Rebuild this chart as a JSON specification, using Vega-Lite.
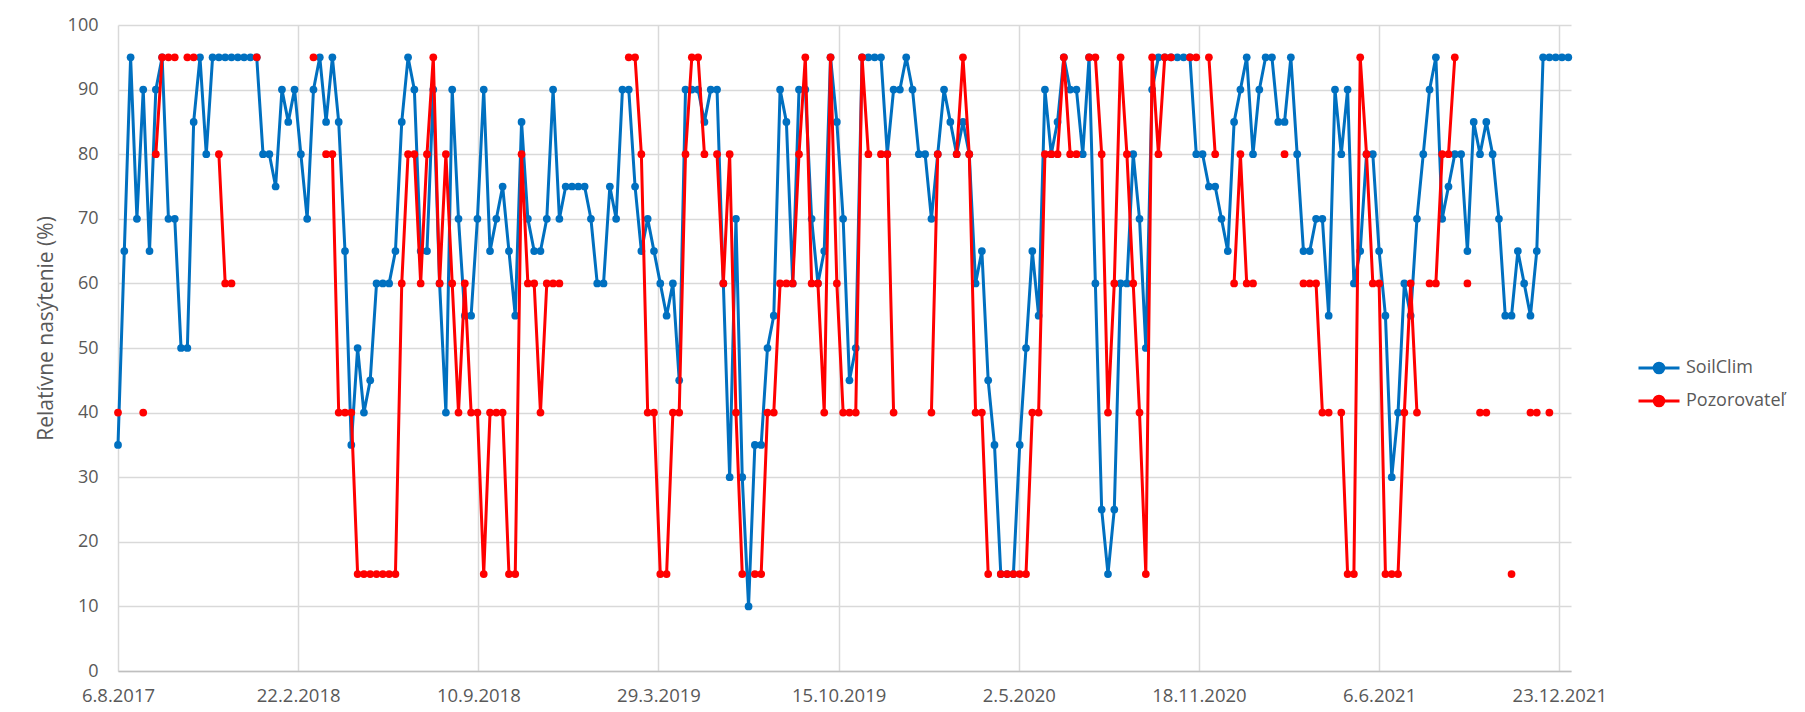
{
  "$schema": "https://vega.github.io/schema/vega-lite/v6.json",
  "width": 1453,
  "height": 646,
  "autosize": {"type": "none"},
  "padding": {"left": 118, "top": 25, "right": 234, "bottom": 41},
  "background": "white",
  "config": {"view": {"stroke": null}, "font": "Open Sans"},
  "data": {"values": [
{"d":"2017-08-06","SoilClim":35,"Pozorovateľ":40},
{"d":"2017-08-13","SoilClim":65,"Pozorovateľ":null},
{"d":"2017-08-20","SoilClim":95,"Pozorovateľ":null},
{"d":"2017-08-27","SoilClim":70,"Pozorovateľ":null},
{"d":"2017-09-03","SoilClim":90,"Pozorovateľ":40},
{"d":"2017-09-10","SoilClim":65,"Pozorovateľ":null},
{"d":"2017-09-17","SoilClim":90,"Pozorovateľ":80},
{"d":"2017-09-24","SoilClim":95,"Pozorovateľ":95},
{"d":"2017-10-01","SoilClim":70,"Pozorovateľ":95},
{"d":"2017-10-08","SoilClim":70,"Pozorovateľ":95},
{"d":"2017-10-15","SoilClim":50,"Pozorovateľ":null},
{"d":"2017-10-22","SoilClim":50,"Pozorovateľ":95},
{"d":"2017-10-29","SoilClim":85,"Pozorovateľ":95},
{"d":"2017-11-05","SoilClim":95,"Pozorovateľ":null},
{"d":"2017-11-12","SoilClim":80,"Pozorovateľ":null},
{"d":"2017-11-19","SoilClim":95,"Pozorovateľ":null},
{"d":"2017-11-26","SoilClim":95,"Pozorovateľ":80},
{"d":"2017-12-03","SoilClim":95,"Pozorovateľ":60},
{"d":"2017-12-10","SoilClim":95,"Pozorovateľ":60},
{"d":"2017-12-17","SoilClim":95,"Pozorovateľ":null},
{"d":"2017-12-24","SoilClim":95,"Pozorovateľ":null},
{"d":"2017-12-31","SoilClim":95,"Pozorovateľ":null},
{"d":"2018-01-07","SoilClim":95,"Pozorovateľ":95},
{"d":"2018-01-14","SoilClim":80,"Pozorovateľ":null},
{"d":"2018-01-21","SoilClim":80,"Pozorovateľ":null},
{"d":"2018-01-28","SoilClim":75,"Pozorovateľ":null},
{"d":"2018-02-04","SoilClim":90,"Pozorovateľ":null},
{"d":"2018-02-11","SoilClim":85,"Pozorovateľ":null},
{"d":"2018-02-18","SoilClim":90,"Pozorovateľ":null},
{"d":"2018-02-25","SoilClim":80,"Pozorovateľ":null},
{"d":"2018-03-04","SoilClim":70,"Pozorovateľ":null},
{"d":"2018-03-11","SoilClim":90,"Pozorovateľ":95},
{"d":"2018-03-18","SoilClim":95,"Pozorovateľ":null},
{"d":"2018-03-25","SoilClim":85,"Pozorovateľ":80},
{"d":"2018-04-01","SoilClim":95,"Pozorovateľ":80},
{"d":"2018-04-08","SoilClim":85,"Pozorovateľ":40},
{"d":"2018-04-15","SoilClim":65,"Pozorovateľ":40},
{"d":"2018-04-22","SoilClim":35,"Pozorovateľ":40},
{"d":"2018-04-29","SoilClim":50,"Pozorovateľ":15},
{"d":"2018-05-06","SoilClim":40,"Pozorovateľ":15},
{"d":"2018-05-13","SoilClim":45,"Pozorovateľ":15},
{"d":"2018-05-20","SoilClim":60,"Pozorovateľ":15},
{"d":"2018-05-27","SoilClim":60,"Pozorovateľ":15},
{"d":"2018-06-03","SoilClim":60,"Pozorovateľ":15},
{"d":"2018-06-10","SoilClim":65,"Pozorovateľ":15},
{"d":"2018-06-17","SoilClim":85,"Pozorovateľ":60},
{"d":"2018-06-24","SoilClim":95,"Pozorovateľ":80},
{"d":"2018-07-01","SoilClim":90,"Pozorovateľ":80},
{"d":"2018-07-08","SoilClim":65,"Pozorovateľ":60},
{"d":"2018-07-15","SoilClim":65,"Pozorovateľ":80},
{"d":"2018-07-22","SoilClim":90,"Pozorovateľ":95},
{"d":"2018-07-29","SoilClim":60,"Pozorovateľ":60},
{"d":"2018-08-05","SoilClim":40,"Pozorovateľ":80},
{"d":"2018-08-12","SoilClim":90,"Pozorovateľ":60},
{"d":"2018-08-19","SoilClim":70,"Pozorovateľ":40},
{"d":"2018-08-26","SoilClim":55,"Pozorovateľ":60},
{"d":"2018-09-02","SoilClim":55,"Pozorovateľ":40},
{"d":"2018-09-09","SoilClim":70,"Pozorovateľ":40},
{"d":"2018-09-16","SoilClim":90,"Pozorovateľ":15},
{"d":"2018-09-23","SoilClim":65,"Pozorovateľ":40},
{"d":"2018-09-30","SoilClim":70,"Pozorovateľ":40},
{"d":"2018-10-07","SoilClim":75,"Pozorovateľ":40},
{"d":"2018-10-14","SoilClim":65,"Pozorovateľ":15},
{"d":"2018-10-21","SoilClim":55,"Pozorovateľ":15},
{"d":"2018-10-28","SoilClim":85,"Pozorovateľ":80},
{"d":"2018-11-04","SoilClim":70,"Pozorovateľ":60},
{"d":"2018-11-11","SoilClim":65,"Pozorovateľ":60},
{"d":"2018-11-18","SoilClim":65,"Pozorovateľ":40},
{"d":"2018-11-25","SoilClim":70,"Pozorovateľ":60},
{"d":"2018-12-02","SoilClim":90,"Pozorovateľ":60},
{"d":"2018-12-09","SoilClim":70,"Pozorovateľ":60},
{"d":"2018-12-16","SoilClim":75,"Pozorovateľ":null},
{"d":"2018-12-23","SoilClim":75,"Pozorovateľ":null},
{"d":"2018-12-30","SoilClim":75,"Pozorovateľ":null},
{"d":"2019-01-06","SoilClim":75,"Pozorovateľ":null},
{"d":"2019-01-13","SoilClim":70,"Pozorovateľ":null},
{"d":"2019-01-20","SoilClim":60,"Pozorovateľ":null},
{"d":"2019-01-27","SoilClim":60,"Pozorovateľ":null},
{"d":"2019-02-03","SoilClim":75,"Pozorovateľ":null},
{"d":"2019-02-10","SoilClim":70,"Pozorovateľ":null},
{"d":"2019-02-17","SoilClim":90,"Pozorovateľ":null},
{"d":"2019-02-24","SoilClim":90,"Pozorovateľ":95},
{"d":"2019-03-03","SoilClim":75,"Pozorovateľ":95},
{"d":"2019-03-10","SoilClim":65,"Pozorovateľ":80},
{"d":"2019-03-17","SoilClim":70,"Pozorovateľ":40},
{"d":"2019-03-24","SoilClim":65,"Pozorovateľ":40},
{"d":"2019-03-31","SoilClim":60,"Pozorovateľ":15},
{"d":"2019-04-07","SoilClim":55,"Pozorovateľ":15},
{"d":"2019-04-14","SoilClim":60,"Pozorovateľ":40},
{"d":"2019-04-21","SoilClim":45,"Pozorovateľ":40},
{"d":"2019-04-28","SoilClim":90,"Pozorovateľ":80},
{"d":"2019-05-05","SoilClim":90,"Pozorovateľ":95},
{"d":"2019-05-12","SoilClim":90,"Pozorovateľ":95},
{"d":"2019-05-19","SoilClim":85,"Pozorovateľ":80},
{"d":"2019-05-26","SoilClim":90,"Pozorovateľ":null},
{"d":"2019-06-02","SoilClim":90,"Pozorovateľ":80},
{"d":"2019-06-09","SoilClim":60,"Pozorovateľ":60},
{"d":"2019-06-16","SoilClim":30,"Pozorovateľ":80},
{"d":"2019-06-23","SoilClim":70,"Pozorovateľ":40},
{"d":"2019-06-30","SoilClim":30,"Pozorovateľ":15},
{"d":"2019-07-07","SoilClim":10,"Pozorovateľ":null},
{"d":"2019-07-14","SoilClim":35,"Pozorovateľ":15},
{"d":"2019-07-21","SoilClim":35,"Pozorovateľ":15},
{"d":"2019-07-28","SoilClim":50,"Pozorovateľ":40},
{"d":"2019-08-04","SoilClim":55,"Pozorovateľ":40},
{"d":"2019-08-11","SoilClim":90,"Pozorovateľ":60},
{"d":"2019-08-18","SoilClim":85,"Pozorovateľ":60},
{"d":"2019-08-25","SoilClim":60,"Pozorovateľ":60},
{"d":"2019-09-01","SoilClim":90,"Pozorovateľ":80},
{"d":"2019-09-08","SoilClim":90,"Pozorovateľ":95},
{"d":"2019-09-15","SoilClim":70,"Pozorovateľ":60},
{"d":"2019-09-22","SoilClim":60,"Pozorovateľ":60},
{"d":"2019-09-29","SoilClim":65,"Pozorovateľ":40},
{"d":"2019-10-06","SoilClim":95,"Pozorovateľ":95},
{"d":"2019-10-13","SoilClim":85,"Pozorovateľ":60},
{"d":"2019-10-20","SoilClim":70,"Pozorovateľ":40},
{"d":"2019-10-27","SoilClim":45,"Pozorovateľ":40},
{"d":"2019-11-03","SoilClim":50,"Pozorovateľ":40},
{"d":"2019-11-10","SoilClim":95,"Pozorovateľ":95},
{"d":"2019-11-17","SoilClim":95,"Pozorovateľ":80},
{"d":"2019-11-24","SoilClim":95,"Pozorovateľ":null},
{"d":"2019-12-01","SoilClim":95,"Pozorovateľ":80},
{"d":"2019-12-08","SoilClim":80,"Pozorovateľ":80},
{"d":"2019-12-15","SoilClim":90,"Pozorovateľ":40},
{"d":"2019-12-22","SoilClim":90,"Pozorovateľ":null},
{"d":"2019-12-29","SoilClim":95,"Pozorovateľ":null},
{"d":"2020-01-05","SoilClim":90,"Pozorovateľ":null},
{"d":"2020-01-12","SoilClim":80,"Pozorovateľ":null},
{"d":"2020-01-19","SoilClim":80,"Pozorovateľ":null},
{"d":"2020-01-26","SoilClim":70,"Pozorovateľ":40},
{"d":"2020-02-02","SoilClim":80,"Pozorovateľ":80},
{"d":"2020-02-09","SoilClim":90,"Pozorovateľ":null},
{"d":"2020-02-16","SoilClim":85,"Pozorovateľ":null},
{"d":"2020-02-23","SoilClim":80,"Pozorovateľ":80},
{"d":"2020-03-01","SoilClim":85,"Pozorovateľ":95},
{"d":"2020-03-08","SoilClim":80,"Pozorovateľ":80},
{"d":"2020-03-15","SoilClim":60,"Pozorovateľ":40},
{"d":"2020-03-22","SoilClim":65,"Pozorovateľ":40},
{"d":"2020-03-29","SoilClim":45,"Pozorovateľ":15},
{"d":"2020-04-05","SoilClim":35,"Pozorovateľ":null},
{"d":"2020-04-12","SoilClim":15,"Pozorovateľ":15},
{"d":"2020-04-19","SoilClim":15,"Pozorovateľ":15},
{"d":"2020-04-26","SoilClim":15,"Pozorovateľ":15},
{"d":"2020-05-03","SoilClim":35,"Pozorovateľ":15},
{"d":"2020-05-10","SoilClim":50,"Pozorovateľ":15},
{"d":"2020-05-17","SoilClim":65,"Pozorovateľ":40},
{"d":"2020-05-24","SoilClim":55,"Pozorovateľ":40},
{"d":"2020-05-31","SoilClim":90,"Pozorovateľ":80},
{"d":"2020-06-07","SoilClim":80,"Pozorovateľ":80},
{"d":"2020-06-14","SoilClim":85,"Pozorovateľ":80},
{"d":"2020-06-21","SoilClim":95,"Pozorovateľ":95},
{"d":"2020-06-28","SoilClim":90,"Pozorovateľ":80},
{"d":"2020-07-05","SoilClim":90,"Pozorovateľ":80},
{"d":"2020-07-12","SoilClim":80,"Pozorovateľ":null},
{"d":"2020-07-19","SoilClim":95,"Pozorovateľ":95},
{"d":"2020-07-26","SoilClim":60,"Pozorovateľ":95},
{"d":"2020-08-02","SoilClim":25,"Pozorovateľ":80},
{"d":"2020-08-09","SoilClim":15,"Pozorovateľ":40},
{"d":"2020-08-16","SoilClim":25,"Pozorovateľ":60},
{"d":"2020-08-23","SoilClim":60,"Pozorovateľ":95},
{"d":"2020-08-30","SoilClim":60,"Pozorovateľ":80},
{"d":"2020-09-06","SoilClim":80,"Pozorovateľ":60},
{"d":"2020-09-13","SoilClim":70,"Pozorovateľ":40},
{"d":"2020-09-20","SoilClim":50,"Pozorovateľ":15},
{"d":"2020-09-27","SoilClim":90,"Pozorovateľ":95},
{"d":"2020-10-04","SoilClim":95,"Pozorovateľ":80},
{"d":"2020-10-11","SoilClim":95,"Pozorovateľ":95},
{"d":"2020-10-18","SoilClim":95,"Pozorovateľ":95},
{"d":"2020-10-25","SoilClim":95,"Pozorovateľ":null},
{"d":"2020-11-01","SoilClim":95,"Pozorovateľ":null},
{"d":"2020-11-08","SoilClim":95,"Pozorovateľ":95},
{"d":"2020-11-15","SoilClim":80,"Pozorovateľ":95},
{"d":"2020-11-22","SoilClim":80,"Pozorovateľ":null},
{"d":"2020-11-29","SoilClim":75,"Pozorovateľ":95},
{"d":"2020-12-06","SoilClim":75,"Pozorovateľ":80},
{"d":"2020-12-13","SoilClim":70,"Pozorovateľ":null},
{"d":"2020-12-20","SoilClim":65,"Pozorovateľ":null},
{"d":"2020-12-27","SoilClim":85,"Pozorovateľ":60},
{"d":"2021-01-03","SoilClim":90,"Pozorovateľ":80},
{"d":"2021-01-10","SoilClim":95,"Pozorovateľ":60},
{"d":"2021-01-17","SoilClim":80,"Pozorovateľ":60},
{"d":"2021-01-24","SoilClim":90,"Pozorovateľ":null},
{"d":"2021-01-31","SoilClim":95,"Pozorovateľ":null},
{"d":"2021-02-07","SoilClim":95,"Pozorovateľ":null},
{"d":"2021-02-14","SoilClim":85,"Pozorovateľ":null},
{"d":"2021-02-21","SoilClim":85,"Pozorovateľ":80},
{"d":"2021-02-28","SoilClim":95,"Pozorovateľ":null},
{"d":"2021-03-07","SoilClim":80,"Pozorovateľ":null},
{"d":"2021-03-14","SoilClim":65,"Pozorovateľ":60},
{"d":"2021-03-21","SoilClim":65,"Pozorovateľ":60},
{"d":"2021-03-28","SoilClim":70,"Pozorovateľ":60},
{"d":"2021-04-04","SoilClim":70,"Pozorovateľ":40},
{"d":"2021-04-11","SoilClim":55,"Pozorovateľ":40},
{"d":"2021-04-18","SoilClim":90,"Pozorovateľ":null},
{"d":"2021-04-25","SoilClim":80,"Pozorovateľ":40},
{"d":"2021-05-02","SoilClim":90,"Pozorovateľ":15},
{"d":"2021-05-09","SoilClim":60,"Pozorovateľ":15},
{"d":"2021-05-16","SoilClim":65,"Pozorovateľ":95},
{"d":"2021-05-23","SoilClim":80,"Pozorovateľ":80},
{"d":"2021-05-30","SoilClim":80,"Pozorovateľ":60},
{"d":"2021-06-06","SoilClim":65,"Pozorovateľ":60},
{"d":"2021-06-13","SoilClim":55,"Pozorovateľ":15},
{"d":"2021-06-20","SoilClim":30,"Pozorovateľ":15},
{"d":"2021-06-27","SoilClim":40,"Pozorovateľ":15},
{"d":"2021-07-04","SoilClim":60,"Pozorovateľ":40},
{"d":"2021-07-11","SoilClim":55,"Pozorovateľ":60},
{"d":"2021-07-18","SoilClim":70,"Pozorovateľ":40},
{"d":"2021-07-25","SoilClim":80,"Pozorovateľ":null},
{"d":"2021-08-01","SoilClim":90,"Pozorovateľ":60},
{"d":"2021-08-08","SoilClim":95,"Pozorovateľ":60},
{"d":"2021-08-15","SoilClim":70,"Pozorovateľ":80},
{"d":"2021-08-22","SoilClim":75,"Pozorovateľ":80},
{"d":"2021-08-29","SoilClim":80,"Pozorovateľ":95},
{"d":"2021-09-05","SoilClim":80,"Pozorovateľ":null},
{"d":"2021-09-12","SoilClim":65,"Pozorovateľ":60},
{"d":"2021-09-19","SoilClim":85,"Pozorovateľ":null},
{"d":"2021-09-26","SoilClim":80,"Pozorovateľ":40},
{"d":"2021-10-03","SoilClim":85,"Pozorovateľ":40},
{"d":"2021-10-10","SoilClim":80,"Pozorovateľ":null},
{"d":"2021-10-17","SoilClim":70,"Pozorovateľ":null},
{"d":"2021-10-24","SoilClim":55,"Pozorovateľ":null},
{"d":"2021-10-31","SoilClim":55,"Pozorovateľ":15},
{"d":"2021-11-07","SoilClim":65,"Pozorovateľ":null},
{"d":"2021-11-14","SoilClim":60,"Pozorovateľ":null},
{"d":"2021-11-21","SoilClim":55,"Pozorovateľ":40},
{"d":"2021-11-28","SoilClim":65,"Pozorovateľ":40},
{"d":"2021-12-05","SoilClim":95,"Pozorovateľ":null},
{"d":"2021-12-12","SoilClim":95,"Pozorovateľ":40},
{"d":"2021-12-19","SoilClim":95,"Pozorovateľ":null},
{"d":"2021-12-26","SoilClim":95,"Pozorovateľ":null},
{"d":"2022-01-02","SoilClim":95,"Pozorovateľ":null}
  ]},
  "transform": [{"fold": ["SoilClim", "Pozorovateľ"], "as": ["seria", "v"]}],
  "encoding": {
    "x": {
      "field": "d", "type": "temporal",
      "scale": {"type": "utc", "domain": [{"year": 2017, "month": 8, "date": 6, "utc": true}, {"year": 2022, "month": 1, "date": 5, "utc": true}]},
      "axis": {
        "title": null,
        "values": [
          {"year": 2017, "month": 8, "date": 6, "utc": true},
          {"year": 2018, "month": 2, "date": 22, "utc": true},
          {"year": 2018, "month": 9, "date": 10, "utc": true},
          {"year": 2019, "month": 3, "date": 29, "utc": true},
          {"year": 2019, "month": 10, "date": 15, "utc": true},
          {"year": 2020, "month": 5, "date": 2, "utc": true},
          {"year": 2020, "month": 11, "date": 18, "utc": true},
          {"year": 2021, "month": 6, "date": 6, "utc": true},
          {"year": 2021, "month": 12, "date": 23, "utc": true}
        ],
        "format": "%-d.%-m.%Y",
        "labelFontSize": 18.5, "labelColor": "#595959", "labelPadding": 15,
        "labelFlush": false, "labelOverlap": false,
        "ticks": false, "domainColor": "#bfbfbf", "domainWidth": 1.5,
        "grid": true, "gridColor": "#d9d9d9", "gridWidth": 1.5
      }
    },
    "y": {
      "field": "v", "type": "quantitative",
      "scale": {"domain": [0, 100], "nice": false},
      "axis": {
        "title": "Relatívne nasýtenie (%)",
        "titleFontSize": 21, "titleFontWeight": "normal", "titleColor": "#595959",
        "titleX": -72, "titleY": 303, "titleAlign": "center", "titleBaseline": "middle", "titleAngle": -90,
        "values": [0, 10, 20, 30, 40, 50, 60, 70, 80, 90, 100],
        "labelFontSize": 18, "labelColor": "#595959", "labelPadding": 20,
        "ticks": false, "domain": false,
        "grid": true, "gridColor": "#d9d9d9", "gridWidth": 1.5
      }
    },
    "color": {
      "field": "seria", "type": "nominal",
      "scale": {"domain": ["SoilClim", "Pozorovateľ"], "range": ["#0070C0", "#FF0000"]},
      "legend": {
        "title": null, "orient": "none", "legendX": 1519, "legendY": 321,
        "symbolType": "M-1,0L1,0M0.24,0A0.24,0.24,0,1,1,-0.24,0A0.24,0.24,0,1,1,0.24,0",
        "symbolSize": 1681, "symbolStrokeWidth": 2.8,
        "labelFontSize": 18, "labelColor": "#595959", "labelOffset": 5,
        "rowPadding": -3,
        "encode": {"symbols": {"update": {"fill": {"scale": "color", "field": "value"}, "stroke": {"scale": "color", "field": "value"}}}}
      }
    }
  },
  "layer": [
    {"transform": [{"filter": "datum.seria == 'SoilClim'"}], "mark": {"type": "line", "strokeWidth": 3, "invalid": "break-paths-filter-domains"}},
    {"transform": [{"filter": "datum.seria == 'SoilClim'"}], "mark": {"type": "point", "filled": true, "opacity": 1, "size": 60}},
    {"transform": [{"filter": "datum.seria == 'Pozorovateľ'"}], "mark": {"type": "line", "strokeWidth": 3, "invalid": "break-paths-filter-domains"}},
    {"transform": [{"filter": "datum.seria == 'Pozorovateľ'"}], "mark": {"type": "point", "filled": true, "opacity": 1, "size": 60}}
  ]
}
